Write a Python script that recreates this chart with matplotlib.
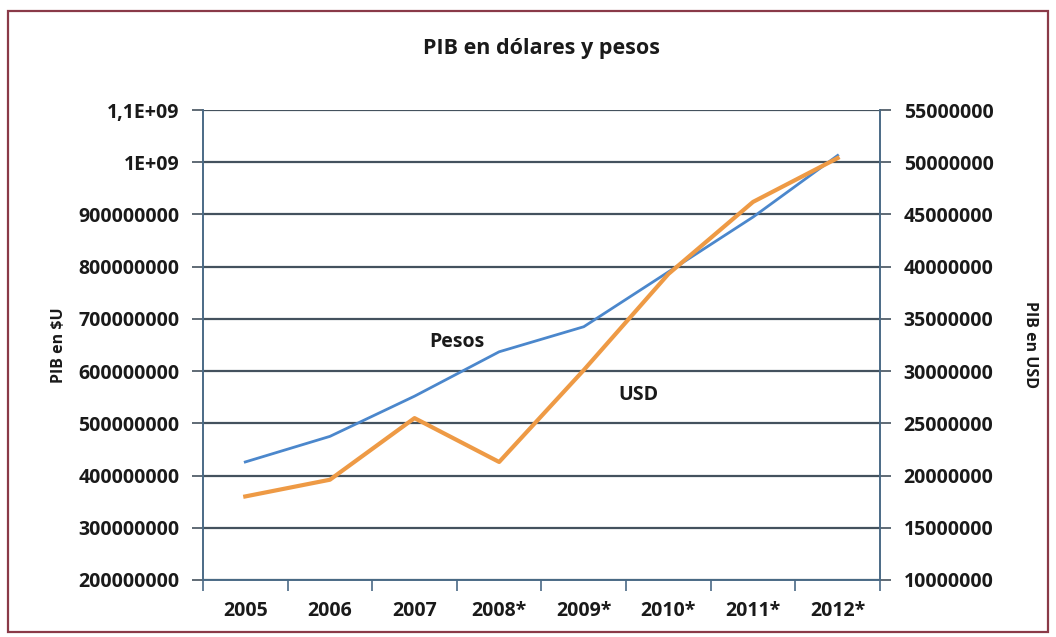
import numpy as np
import matplotlib.pyplot as plt
from matplotlib.patches import Rectangle

plt.rcParams['font.family'] = ['Open Sans', 'DejaVu Sans']
plt.rcParams['font.weight'] = 'bold'

# data
years = ['2005', '2006', '2007', '2008*', '2009*', '2010*', '2011*', '2012*']
pib_pesos = [426e6, 475e6, 552e6, 637e6, 685e6, 790e6, 895e6, 1013e6]
pib_usd = [18.0e6, 19.6e6, 25.5e6, 21.3e6, 30.1e6, 39.3e6, 46.2e6, 50.4e6]

left_ticks = [2e8, 3e8, 4e8, 5e8, 6e8, 7e8, 8e8, 9e8, 1e9, 1.1e9]
left_labels = ['200000000', '300000000', '400000000', '500000000', '600000000',
               '700000000', '800000000', '900000000', '1E+09', '1,1E+09']
right_ticks = [10e6, 15e6, 20e6, 25e6, 30e6, 35e6, 40e6, 45e6, 50e6, 55e6]
right_labels = ['10000000', '15000000', '20000000', '25000000', '30000000',
                '35000000', '40000000', '45000000', '50000000', '55000000']

BLUE = '#4b87cc'
ORANGE = '#ee9a45'
GRID = '#44525e'
SPINE = '#4a6a86'
TXT = '#1a1a1a'

fig = plt.figure(figsize=(10.56, 6.37), dpi=100)
ax = fig.add_axes([0.1922, 0.0895, 0.6411, 0.7378])
ax2 = ax.twinx()

x = np.arange(len(years))
ax.plot(x, pib_pesos, color=BLUE, lw=2.0, zorder=3)
ax2.plot(x, pib_usd, color=ORANGE, lw=3.0, zorder=3)

ax.set_xlim(-0.5, len(years) - 0.5)
ax.set_ylim(left_ticks[0], left_ticks[-1])
ax2.set_ylim(right_ticks[0], right_ticks[-1])

ax.set_yticks(left_ticks)
ax.set_yticklabels(left_labels)
ax2.set_yticks(right_ticks)
ax2.set_yticklabels(right_labels)

ax.set_xticks(x)
ax.set_xticklabels(years)
ax.set_xticks(np.arange(-0.5, len(years)), minor=True)
ax.tick_params(axis='x', which='major', length=0, pad=15, labelsize=14, colors=TXT)
ax.tick_params(axis='x', which='minor', length=8, color=SPINE, width=1.2)
ax.tick_params(axis='y', length=8, color=GRID, width=1.2, pad=9, labelsize=14, colors=TXT)
ax2.tick_params(axis='y', length=8, color=GRID, width=1.2, pad=9, labelsize=14, colors=TXT)
for lab in ax.get_xticklabels() + ax.get_yticklabels() + ax2.get_yticklabels():
    lab.set_fontweight('bold')
    lab.set_color(TXT)

ax.grid(axis='y', color=GRID, lw=1.6)
ax.set_axisbelow(True)

for a in (ax, ax2):
    a.spines['top'].set_visible(False)
    for s in ('left', 'right', 'bottom'):
        a.spines[s].set_color(SPINE)
        a.spines[s].set_linewidth(1.2)

ax.set_ylabel('PIB en $U', fontsize=11.5, fontweight='bold', color=TXT, labelpad=8)
ax2.set_ylabel('PIB en USD', fontsize=11.5, fontweight='bold', color=TXT,
               rotation=270, labelpad=32)
ax.set_title('PIB en dólares y pesos', fontsize=15.5, fontweight='bold', color=TXT, pad=40)

ax.text(2.5, 6.55e8, 'Pesos', fontsize=14, fontweight='bold', color=TXT, ha='center', va='center')
ax2.text(4.65, 2.77e7, 'USD', fontsize=14, fontweight='bold', color=TXT, ha='center', va='center')

fig.patches.append(Rectangle((0.008, 0.008), 0.984, 0.974, transform=fig.transFigure,
                             fill=False, edgecolor='#8a3a48', lw=1.6))

fig.savefig('out.png', dpi=100)
